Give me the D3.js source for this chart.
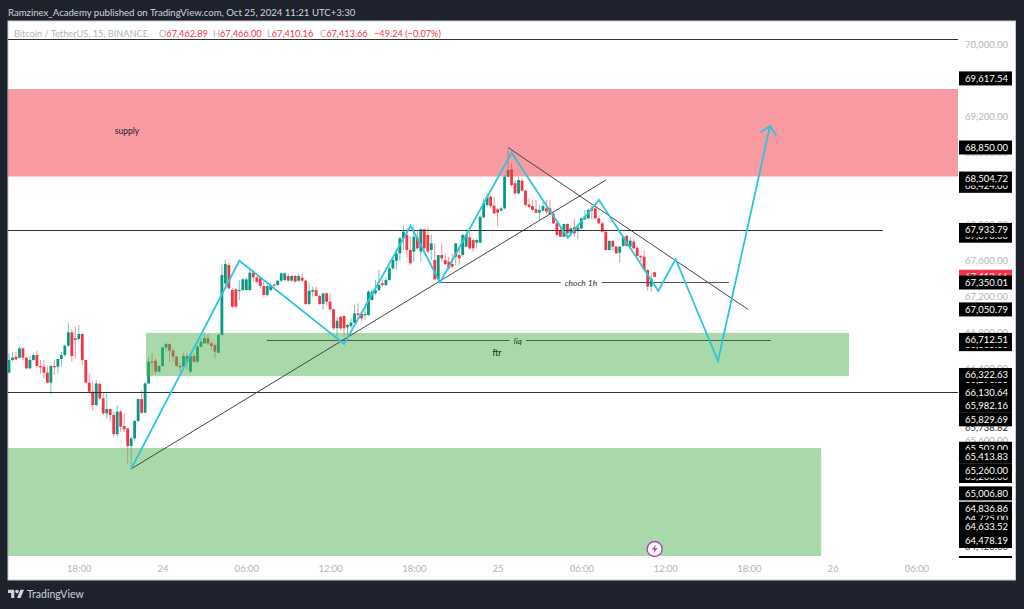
<!DOCTYPE html>
<html>
<head>
<meta charset="utf-8">
<style>
  html, body { margin: 0; padding: 0; background: #1e222d; overflow: hidden; }
  svg { display: block; }
  text { font-family: Lato, sans-serif; }
</style>
<script src="https://cdn.jsdelivr.net/npm/d3@7"></script>
</head>
<body>
<div id="chart"></div>
<script>
// candles, one value per 15 minute bar
const opens = [
  66348,66489,66526,66515,66618,66515,66396,66489,66544,66422,
  66415,66348,66237,66422,66415,66500,66544,66648,66796,66730,
  66722,66778,66489,66237,66137,65989,66222,66063,65896,65944,
  65878,65666,65915,65755,65729,65533,65618,65811,66055,65904,
  66229,66470,66481,66359,66422,66626,66667,66592,66526,66422,
  66415,66533,66359,66533,66470,66637,66674,66730,66674,66655,
  66570,66767,67340,67544,67266,67274,67259,67266,67266,67266,
  67459,67407,67396,67311,67211,67266,67329,67322,67370,67378,
  67422,67370,67422,67370,67404,67370,67111,67248,67266,67200,
  67111,67230,67137,67052,66841,66970,66978,66852,66866,66904,
  67007,67000,66985,66989,67155,67230,67266,67340,67322,67378,
  67507,67592,67674,67841,67878,67711,67693,67852,67693,67941,
  67878,67711,67600,67385,67655,67600,67581,67555,67637,67655,
  67655,67748,67852,67822,67793,67793,68074,68211,68303,68204,
  68163,68148,68174,68526,68607,68452,68341,68481,68370,68218,
  68200,68163,68126,68148,68174,68174,68111,68007,67933,67859,
  68000,67896,67963,67926,67952,68052,68063,68174,68174,68063,
  68007,67915,67711,67811,67748,67681,67756,67867,67748,67804,
  67737,67644,67637,67489,67304,67462.89];
const highs = [
  66563,66581,66581,66644,66629,66526,66533,66563,66592,66489,
  66489,66415,66433,66489,66507,66581,66663,66904,66830,66859,
  66878,66785,66489,66340,66248,66266,66248,66118,66118,65952,
  65915,65989,65933,65896,65729,65637,65822,66063,66155,66248,
  66526,66563,66507,66433,66637,66681,66674,66618,66533,66459,
  66570,66563,66563,66563,66655,66730,66792,66778,66692,66674,
  66778,67550,67607,67563,67285,67285,67378,67396,67396,67489,
  67481,67422,67407,67359,67322,67348,67340,67378,67463,67463,
  67452,67433,67433,67452,67452,67378,67348,67303,67303,67211,
  67237,67237,67230,67063,66970,66978,66989,66889,66952,67100,
  67118,67015,67063,67266,67266,67378,67489,67378,67407,67526,
  67618,67693,67859,67989,67952,67859,67989,67933,67952,67952,
  67963,67878,67785,67655,67785,67674,67637,67674,67785,67748,
  67896,67952,67952,67841,67841,68100,68285,68341,68322,68303,
  68174,68192,68544,68822,68674,68489,68526,68507,68385,68285,
  68267,68267,68211,68248,68267,68267,68137,68026,67989,68007,
  68007,67963,68063,67989,68074,68156,68174,68200,68193,68074,
  68026,67915,67822,67822,67756,67756,67867,67878,67859,67830,
  67748,67656,67711,67496,67452,67466];
const lows = [
  66340,66470,66489,66507,66489,66385,66385,66481,66396,66340,
  66285,66229,66111,66322,66340,66415,66526,66637,66470,66507,
  66703,66433,66229,66118,65926,65970,66044,65878,65840,65803,
  65637,65644,65692,65692,65340,65303,65592,65803,65889,65896,
  66222,66322,66322,66348,66415,66581,66470,66470,66415,66359,
  66378,66378,66348,66459,66452,66629,66674,66655,66600,66507,
  66563,66750,67300,67270,67063,67063,67155,67248,67259,67259,
  67359,67340,67285,67192,67192,67248,67303,67311,67359,67363,
  67359,67359,67348,67359,67359,67100,67100,67192,67192,67100,
  67044,67100,67037,66822,66748,66822,66748,66748,66841,66896,
  66933,66915,66933,66978,67148,67211,67259,67300,67311,67370,
  67489,67489,67581,67711,67630,67544,67581,67711,67581,67711,
  67674,67600,67378,67359,67581,67544,67489,67507,67544,67544,
  67637,67741,67711,67693,67730,67785,68063,68192,68174,68111,
  67978,68137,68163,68526,68415,68322,68322,68359,68192,68174,
  68148,68111,68044,68137,68118,68100,68000,67859,67852,67852,
  67859,67859,67859,67830,67933,68044,68052,68052,68052,68000,
  67904,67704,67704,67704,67667,67570,67748,67748,67741,67719,
  67637,67581,67481,67259,67248,67410.16];
const closes = [
  66489,66515,66496,66618,66515,66396,66489,66544,66422,66407,
  66348,66237,66422,66407,66500,66544,66648,66796,66533,66711,
  66778,66489,66237,66137,65989,66229,66063,65896,65944,65878,
  65666,65915,65748,65718,65533,65618,65811,66055,65904,66229,
  66470,66463,66359,66422,66626,66667,66592,66526,66422,66407,
  66533,66470,66533,66470,66637,66692,66730,66674,66644,66581,
  66767,67433,67555,67285,67081,67081,67266,67385,67385,67459,
  67407,67359,67311,67211,67311,67322,67315,67370,67452,67452,
  67370,67422,67359,67422,67370,67111,67259,67266,67200,67111,
  67230,67137,67052,66841,66926,66841,66841,66878,66904,67007,
  66989,66952,67000,67248,67248,67266,67322,67322,67378,67507,
  67600,67674,67841,67915,67711,67563,67859,67730,67941,67730,
  67693,67785,67385,67655,67618,67555,67507,67526,67785,67618,
  67878,67878,67730,67730,67822,68081,68229,68303,68200,68118,
  68126,68174,68526,68600,68433,68341,68489,68370,68211,68192,
  68156,68126,68156,68200,68137,68111,68007,67878,67859,68000,
  67896,67952,67896,67963,68063,68081,68156,68148,68063,68007,
  67915,67711,67811,67748,67674,67748,67859,67756,67815,67730,
  67644,67630,67489,67304,67396,67413.66];

// price scale
const priceTicks = [70000, 69200, 68800, 68400, 68000, 67600, 67200, 66800, 66400, 65600];
// pale labels sit underneath everything else
const paleLabels = [65738.82, 64420.00];
// drawn in this order, later boxes cover the earlier ones
const priceLabels = [
  69617.54, 68850.00, 68424.00, 68504.72, 67870.00, 67933.79,
  67050.79, 66665.00, 66712.51, 66270.00, 66322.63, 66130.64, 65982.16,
  65829.69, 65503.00, 65200.00, 65413.83, 65260.00, 65006.80,
  64725.00, 64836.86, 64633.52, 64478.19];
const lastClose = 67413.66;
const chochPrice = 67350.01;

// drawings, x given as bar number (may run past the last candle)
const zigzagBars   = [34.9, 66.0, 96.0, 115.1, 123.5, 144.0, 160.1, 169.05, 186.05, 191.0, 203.15, 218.05];
const zigzagPrices = [65270, 67592, 66667, 67981, 67350, 68792, 67848, 68267, 67256, 67611, 66478, 69089];
const arrowBars    = [215.3, 218.05, 219.9];
const arrowPrices  = [69017, 69089, 68978];
const trendUpBars    = [34.96, 171.06];
const trendUpPrices  = [65278, 68489];
const trendDownBars   = [142.98, 211.75];
const trendDownPrices = [68850, 67050.79];
const zoneBars   = [[-1, 272], [39.26, 240.7], [-1, 232.7]];
const zonePrices = [[69500, 68528], [66790, 66310], [65511, 64311]];

const width = 1024, height = 609;
const pane = { left: 8, right: 958, top: 21.5, bottom: 557, outerRight: 1015.5, outerBottom: 580 };
const barPx = 3.49;
const t0 = Date.UTC(2024, 9, 23, 13, 0);
const barMs = 15 * 60 * 1000;
const barTime = b => new Date(t0 + b * barMs);

const x = d3.scaleUtc()
  .domain([barTime((pane.left - 9) / barPx), barTime((pane.right - 9) / barPx)])
  .range([pane.left, pane.right]);
const y = d3.scaleLinear()
  .domain([64300, 70250])
  .range([pane.bottom, pane.top]);
const X = b => x(barTime(b));

const svg = d3.select("#chart").append("svg")
  .attr("width", width)
  .attr("height", height);

svg.append("rect")
  .attr("x", pane.left).attr("y", pane.top - 0.5)
  .attr("width", pane.outerRight - pane.left)
  .attr("height", pane.outerBottom - pane.top + 0.5)
  .attr("fill", "#fff")
  .attr("stroke", "#c9cbd1");

svg.append("defs").append("clipPath").attr("id", "plot")
  .append("rect")
  .attr("x", pane.left).attr("y", pane.top)
  .attr("width", pane.right - pane.left)
  .attr("height", pane.bottom - pane.top);

const plot = svg.append("g").attr("clip-path", "url(#plot)");

/** candles */
const up = "#089981", down = "#f23645";
const candles = d3.range(opens.length);
plot.append("g").selectAll("line")
  .data(candles)
  .join("line")
  .attr("x1", i => X(i)).attr("x2", i => X(i))
  .attr("y1", i => y(highs[i])).attr("y2", i => y(lows[i]))
  .attr("stroke", i => closes[i] >= opens[i] ? up : down)
  .attr("stroke-opacity", 0.55);
plot.append("g").selectAll("rect")
  .data(candles)
  .join("rect")
  .attr("x", i => X(i) - 1.4)
  .attr("width", 2.8)
  .attr("y", i => y(Math.max(opens[i], closes[i])))
  .attr("height", i => Math.max(1, Math.abs(y(opens[i]) - y(closes[i]))))
  .attr("fill", i => closes[i] >= opens[i] ? up : down);

/** zones sit over the candles */
const zoneFill = ["rgba(242,54,69,0.5)", "rgba(76,175,80,0.48)", "rgba(76,175,80,0.48)"];
plot.append("g").selectAll("rect")
  .data(zoneBars)
  .join("rect")
  .attr("x", d => X(d[0]))
  .attr("width", d => X(d[1]) - X(d[0]))
  .attr("y", (d, i) => y(zonePrices[i][0]))
  .attr("height", (d, i) => y(zonePrices[i][1]) - y(zonePrices[i][0]))
  .attr("fill", (d, i) => zoneFill[i]);

// plain horizontal rules
const hline = (b1, b2, p) => plot.append("line")
  .attr("x1", X(b1)).attr("x2", X(b2))
  .attr("y1", Math.round(y(p)) + 0.5).attr("y2", Math.round(y(p)) + 0.5)
  .attr("stroke", "#333");

hline(-1, 272, 70061);
hline(-1, 250.4, 67933.79);
hline(-1, 272, 66130.64);

// horizontal line with its text sitting in a gap
function gapLine(b1, b2, textBar, p, label, color) {
  const yy = Math.round(y(p)) + 0.5;
  const t = plot.append("text")
    .attr("x", X(textBar))
    .attr("y", yy + 3)
    .attr("text-anchor", "middle")
    .attr("font-size", 8.5)
    .attr("font-style", "italic")
    .attr("fill", "#333")
    .text(label);
  const box = t.node().getBBox();
  plot.append("line").attr("x1", X(b1)).attr("x2", box.x - 4).attr("y1", yy).attr("y2", yy).attr("stroke", color);
  plot.append("line").attr("x1", box.x + box.width + 4).attr("x2", X(b2)).attr("y1", yy).attr("y2", yy).attr("stroke", color);
}

gapLine(123.5, 206.3, 163.9, chochPrice, "choch 1h", "#555");
gapLine(73.9, 218.3, 145.8, 66712.51, "liq", "#4d5d4d");

const pathLine = d3.line().x(d => X(d[0])).y(d => y(d[1]));

// black trend lines
[[trendUpBars, trendUpPrices], [trendDownBars, trendDownPrices]].forEach(([bs, ps]) => {
  plot.append("path")
    .attr("d", pathLine(d3.zip(bs, ps)))
    .attr("fill", "none")
    .attr("stroke", "#444");
});

// cyan swing path with the arrow head at the end
[[zigzagBars, zigzagPrices], [arrowBars, arrowPrices]].forEach(([bs, ps]) => {
  plot.append("path")
    .attr("d", pathLine(d3.zip(bs, ps)))
    .attr("fill", "none")
    .attr("stroke", "#2bc6dc")
    .attr("stroke-width", 1.8);
});

const note = (b, p, label) => plot.append("text")
  .attr("x", X(b)).attr("y", y(p))
  .attr("text-anchor", "middle")
  .attr("font-size", 8.5)
  .attr("fill", "#222")
  .text(label);
note(33.8, 68995, "supply");
note(139.8, 66535, "ftr");

/** price axis */
const axisY = svg.append("g")
  .attr("transform", `translate(${pane.right + 7},0)`)
  .call(d3.axisRight(y).tickValues(priceTicks).tickSize(0).tickFormat(d3.format(",.2f")));
axisY.select(".domain").remove();
axisY.selectAll("text")
  .attr("x", 0)
  .attr("fill", "#b2b5be")
  .style("font-size", "9.5px")
  .style("font-family", "Lato, sans-serif");

const priceBox = (p, fill, ink) => {
  const g = svg.append("g").attr("transform", `translate(${pane.right + 1},${y(p)})`);
  g.append("rect").attr("y", -7).attr("width", 53).attr("height", 14).attr("fill", fill);
  g.append("text").attr("x", 6).attr("y", 3.5)
    .attr("font-size", 9.5).attr("fill", ink)
    .text(d3.format(",.2f")(p));
};
paleLabels.forEach(p => priceBox(p, "#fff", "#333"));
// red last price box goes under the choch one
priceBox(lastClose, down, "#fff");
priceBox(chochPrice, "#000", "#fff");
priceLabels.forEach(p => priceBox(p, "#000", "#fff"));

svg.append("rect")
  .attr("x", pane.right + 1).attr("y", y(64300) - 1)
  .attr("width", 53).attr("height", 2).attr("fill", "#000");

/** time axis */
const axisX = svg.append("g")
  .attr("transform", "translate(0,562)")
  .call(d3.axisBottom(x)
    .tickValues(d3.utcHour.every(6).range(barTime(0), barTime(272)))
    .tickSize(0)
    .tickFormat(d => d.getUTCHours() === 0 ? String(d.getUTCDate()) : d3.utcFormat("%H:%M")(d)));
axisX.select(".domain").remove();
axisX.selectAll("text")
  .attr("y", 3)
  .attr("fill", "#b2b5be")
  .style("font-size", "9.5px")
  .style("font-family", "Lato, sans-serif");

/** header and legend */
svg.append("text")
  .attr("x", 8).attr("y", 15.5)
  .attr("font-size", 9.6)
  .attr("fill", "#d1d4dc")
  .text("Ramzinex_Academy published on TradingView.com, Oct 25, 2024 11:21 UTC+3:30");

const legend = svg.append("text")
  .attr("x", 14).attr("y", 37)
  .attr("font-size", 9.2)
  .attr("fill", "#b2b5be");
legend.append("tspan").text("Bitcoin / TetherUS, 15, BINANCE");
[["O", "67,462.89", 159], ["H", "67,466.00", 213], ["L", "67,410.16", 267], ["C", "67,413.66", 320]].forEach(([k, v, px]) => {
  legend.append("tspan").attr("x", px).text(k);
  legend.append("tspan").attr("fill", down).text(v);
});
legend.append("tspan").attr("x", 374).attr("fill", down).text("\u221249.24 (\u22120.07%)");

/** lightning badge */
const badge = svg.append("g").attr("transform", `translate(${X(185)},549)`);
badge.append("circle").attr("r", 7.5).attr("fill", "#fff").attr("stroke", "#ab47bc").attr("stroke-width", 1.4);
badge.append("path").attr("d", "M1.5,-4.5 L-3,0.8 L-0.3,0.8 L-1.5,4.5 L3,-0.8 L0.3,-0.8 Z").attr("fill", "#ab47bc");

/** logo */
const logo = svg.append("g").attr("transform", "translate(8,588) scale(0.45)").attr("fill", "#d1d4dc");
logo.append("path").attr("d", "M14 22H7V11H0V4h14v18zM28 22h-8l7.5-18h8L28 22z");
logo.append("circle").attr("cx", 20).attr("cy", 8).attr("r", 4);
svg.append("text")
  .attr("x", 27).attr("y", 598)
  .attr("font-size", 10.5)
  .attr("fill", "#d1d4dc")
  .text("TradingView");
</script>
</body>
</html>
